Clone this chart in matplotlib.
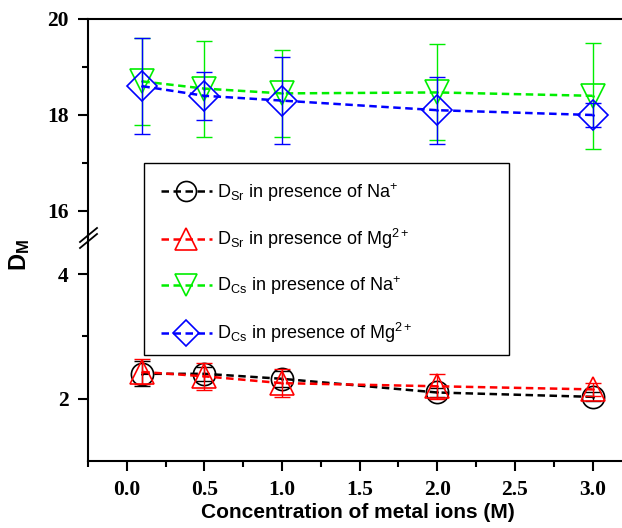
import numpy as np
import matplotlib
matplotlib.use("Agg")
from matplotlib import pyplot as plt
from matplotlib.lines import Line2D
from matplotlib.patches import Rectangle

plt.rcParams['font.family'] = ['Liberation Sans', 'DejaVu Sans']
plt.rcParams['mathtext.fontset'] = 'custom'
plt.rcParams['mathtext.rm'] = 'Liberation Sans'
plt.rcParams['mathtext.bf'] = 'Liberation Sans:bold'

# data
conc = [0.1, 0.5, 1.0, 2.0, 3.0]
sr_na     = [2.40, 2.40, 2.32, 2.10, 2.03]
sr_na_err = [0.20, 0.11, 0.13, 0.08, 0.07]
sr_mg     = [2.43, 2.36, 2.25, 2.20, 2.15]
sr_mg_err = [0.20, 0.22, 0.23, 0.20, 0.10]
cs_na     = [18.70, 18.55, 18.45, 18.47, 18.40]
cs_na_err = [0.90, 1.00, 0.90, 1.00, 1.10]
cs_mg     = [18.60, 18.40, 18.30, 18.10, 18.00]
cs_mg_err = [1.00, 0.50, 0.90, 0.70, 0.25]

labels = [r'D$_{\mathrm{Sr}}$ in presence of Na$^{+}$',
          r'D$_{\mathrm{Sr}}$ in presence of Mg$^{2+}$',
          r'D$_{\mathrm{Cs}}$ in presence of Na$^{+}$',
          r'D$_{\mathrm{Cs}}$ in presence of Mg$^{2+}$']
colors  = ['black', 'red', '#00ee00', 'blue']
markers = ['o', '^', 'v', 'D']
msizes  = [16, 17, 17, 15]

W, H = 622, 528
fig = plt.figure(figsize=(W/100, H/100), dpi=100)
left, right = 88/W, 1.0
ytop, ybrk, ybot = 1 - 19/H, 1 - 236/H, 1 - 461/H
ax_top = fig.add_axes([left, ybrk, right-left, ytop-ybrk])
ax_bot = fig.add_axes([left, ybot, right-left, ybrk-ybot])

def series(ax, y, err, i):
    ax.errorbar(conc, y, yerr=err, fmt='none', ecolor=colors[i], elinewidth=1,
                capsize=5.5, capthick=1, zorder=2+i)
    ln, = ax.plot(conc, y, color=colors[i], lw=1.8, dashes=(3, 1.8),
                  marker=markers[i], ms=msizes[i], mfc='none', mec=colors[i],
                  mew=1.2, zorder=3+i, label=labels[i])
    ax.plot(conc, y, ls='none', marker='.', ms=2, color=colors[i], zorder=3+i)
    return ln

h0 = series(ax_bot, sr_na, sr_na_err, 0)
h1 = series(ax_bot, sr_mg, sr_mg_err, 1)
h2 = series(ax_top, cs_na, cs_na_err, 2)
h3 = series(ax_top, cs_mg, cs_mg_err, 3)

ax_top.set_ylim(20 - 217/48, 20)
ax_bot.set_ylim(1, 4 + 38/62)
for ax in (ax_top, ax_bot):
    ax.set_xlim(-0.25, 3.19)
    ax.spines['right'].set_visible(False)
    for s in ax.spines.values():
        s.set_linewidth(1.5)
    ax.tick_params(axis='both', direction='out', width=1.5, length=7, pad=7)
    ax.tick_params(which='minor', direction='out', width=1.5, length=4)

ax_top.spines['bottom'].set_visible(False)
ax_top.tick_params(axis='x', which='both', bottom=False, labelbottom=False)
ax_top.set_yticks([16, 18, 20])
ax_top.set_yticks([17, 19], minor=True)
ax_bot.spines['top'].set_visible(False)
ax_bot.set_yticks([2, 4])
ax_bot.set_yticks([3], minor=True)
ax_bot.set_xticks([0.0, 0.5, 1.0, 1.5, 2.0, 2.5, 3.0])
ax_bot.set_xticks([-0.25, 0.25, 0.75, 1.25, 1.75, 2.25, 2.75], minor=True)
ax_bot.set_xticklabels(['0.0', '0.5', '1.0', '1.5', '2.0', '2.5', '3.0'])
for ax in (ax_top, ax_bot):
    for lab in ax.get_yticklabels() + ax.get_xticklabels():
        lab.set_fontfamily('Liberation Serif')
        lab.set_fontweight('bold')
        lab.set_fontsize(15.5)

# axis break marks
for dy in (-3, 3):
    fig.add_artist(Line2D([80/W, 97/W], [1 - (245+dy)/H, 1 - (231+dy)/H],
                          transform=fig.transFigure, color='black', lw=1.3))

# legend box drawn separately so its size matches the original
fig.add_artist(Rectangle((144/W, 1 - 355/H), (509-144)/W, (355-163)/H,
                         transform=fig.transFigure, fill=False,
                         edgecolor='black', lw=1, zorder=10))
leg = fig.legend(handles=[h0, h1, h2, h3], loc='upper left',
                 bbox_to_anchor=(152/W, 1 - 172/H), fontsize=13,
                 frameon=False, handlelength=2.8, borderpad=0,
                 handletextpad=0.3, labelspacing=1.3, markerscale=0.9)

fig.text(358/W, 1 - 513/H, 'Concentration of metal ions (M)', ha='center',
         va='center', fontsize=15, fontweight='bold')
fig.text(20/W, 1 - 255/H, r'$\mathbf{D_M}$', ha='center', va='center',
         rotation=90, fontsize=17)

fig.savefig('out.png', dpi=100)
